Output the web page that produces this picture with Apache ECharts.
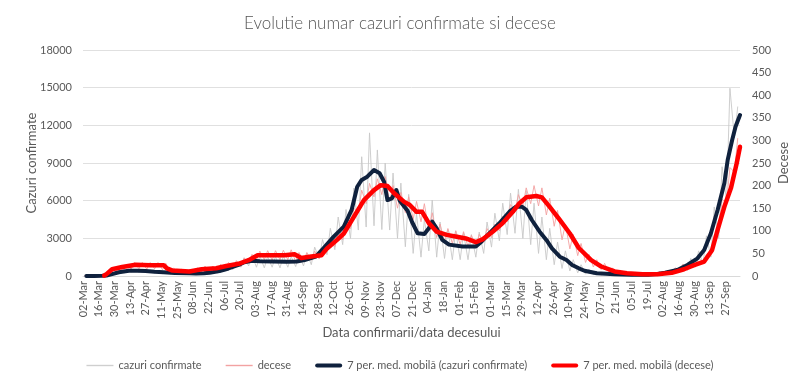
<!DOCTYPE html>
<html>
<head>
<meta charset="utf-8">
<script src="https://cdn.jsdelivr.net/npm/echarts@6/dist/echarts.min.js"></script>
<style>html,body{margin:0;padding:0;background:#fff}#c{width:800px;height:382px}</style>
</head>
<body>
<div id="c"></div>
<script>
// ---- DATA ----
const startDay = [2020, 2, 2];   // 02-Mar-2020, first category
const dayCount = 588;            // daily categories up to 10-Oct-2021
const monthNames = ['Jan','Feb','Mar','Apr','May','Jun','Jul','Aug','Sep','Oct','Nov','Dec'];

// raw daily series read as weekly troughs / peaks (week 0 starts 02-Mar-2020)
const casesLow  = [0,3,10,80,200,300,320,300,280,230,190,160,130,120,130,140,200,250,380,520,700,800,700,650,700,650,700,750,800,900,1400,1700,2100,2500,3000,3660,3900,4000,3700,3660,3000,2330,1800,1500,2000,1500,1400,1300,1300,1300,1500,1800,2300,2800,3300,3400,3000,2500,1800,1300,900,600,400,250,150,100,70,50,40,30,30,40,50,80,130,200,300,450,700,1000,1500,3000,6000,11000];
const casesHigh = [3,15,60,250,380,520,500,520,470,420,370,300,270,280,270,320,420,560,750,1100,1450,1650,1600,1550,1550,1600,1550,1700,1800,2300,2900,3800,4700,5300,7000,9500,11400,10040,9000,8200,7400,6500,5000,4500,6050,4300,3700,3600,3400,3300,3500,4300,5000,5800,6600,6900,6800,5800,4700,3800,2700,2000,1300,900,550,350,260,220,180,150,140,150,190,300,420,620,950,1400,2000,3200,5500,8700,14950,13500];
const deathsLow  = [0,0,0,1,8,12,15,16,15,16,14,8,6,6,8,10,10,12,15,18,20,28,35,36,35,36,36,32,33,35,38,55,65,80,105,140,160,175,180,165,150,140,125,120,100,85,75,72,70,65,65,75,85,100,120,145,155,160,155,135,110,80,60,45,30,20,14,8,5,3,2,2,2,3,4,8,14,18,22,30,55,95,160,230];
const deathsHigh = [0,0,1,8,20,25,30,30,30,30,28,18,15,14,18,22,22,26,30,34,40,48,55,56,56,57,58,52,52,55,60,78,95,115,150,190,205,215,220,200,185,175,165,160,140,115,105,100,98,90,92,105,115,132,158,180,195,200,195,172,145,115,92,72,48,36,28,18,12,9,8,7,7,9,12,18,26,32,40,48,90,170,240,305];

// 7-day moving averages: day index (from 02-Mar-2020) and value
const casesMaDays = [3,10,17,21,26,32,41,49,56,64,72,82,95,101,108,113,122,130,139,144,151,158,170,182,191,198,208,215,224,233,240,245,249,254,260,265,269,272,276,280,283,290,294,299,305,309,312,316,321,327,339,351,356,363,372,381,387,392,396,401,408,414,419,426,432,437,443,448,459,475,490,505,512,520,531,540,549,555,561,567,573,576,580,583,587];
const casesMaVals = [0,5,15,40,150,300,420,410,400,340,300,240,215,200,225,260,400,600,880,1100,1220,1170,1150,1140,1160,1270,1540,2230,3130,3930,5260,7110,7650,7910,8440,8180,7510,6050,6190,6850,6000,5200,4300,3400,3350,3800,4330,3800,2870,2500,2350,2350,2730,3400,4200,5120,5520,5520,5260,4460,3530,2870,2200,1540,1270,880,613,420,215,135,95,100,150,263,478,876,1410,2070,3400,5260,7380,9240,10830,11890,12820];
const deathsMaDays = [19,21,26,35,47,60,72,75,80,95,106,119,128,139,148,156,170,180,189,195,204,213,218,227,233,242,251,260,266,272,278,287,292,298,303,309,316,325,334,342,351,357,366,375,384,390,396,405,410,417,426,435,443,454,463,475,486,500,513,526,537,546,555,562,567,573,579,584,587];
const deathsMaVals = [1,4,15,20,25,24,24,17,12,10,15,17,22,27,35,46,46,46,48,40,43,46,61,80,94,131,168,190,201,199,183,164,157,142,142,117,98,91,87,83,75,81,98,117,142,161,174,177,174,153,124,94,62,35,21,10,6,4,4,7,15,24,32,57,102,153,195,249,286];

const yLeftTicks  = {min: 0, max: 18000, interval: 3000};
const yRightTicks = {min: 0, max: 500, interval: 50};

// ---- BUILD ----
const categories = [];
for (let i = 0; i < dayCount; i++) {
  const d = new Date(startDay[0], startDay[1], startDay[2] + i);
  categories.push(String(d.getDate()).padStart(2,'0') + '-' + monthNames[d.getMonth()]);
}
function weekly(lows, highs) {
  const out = [];
  for (let w = 0; w < lows.length; w++) {
    out.push([7*w + 1, lows[w]]);
    out.push([Math.min(7*w + 4, dayCount - 1), highs[w]]);
  }
  return out;
}
function pairs(days, vals) { return days.map((d, i) => [d, vals[i]]); }

const FONT = 'Lato';
const TXT = '#595959';
const thinIcon = 'path://M0,3.3 H27 V4.7 H0 Z';
const thickIcon = 'path://M2,2 H25 A2,2 0 0 1 25,6 H2 A2,2 0 0 1 2,2 Z';
const chart = echarts.init(document.getElementById('c'), null, {renderer: 'canvas'});
chart.setOption({
  animation: false,
  backgroundColor: '#fff',
  textStyle: {fontFamily: FONT, color: TXT},
  title: {
    text: 'Evolutie numar cazuri confirmate si decese',
    left: 'center', top: 10,
    textStyle: {fontFamily: FONT, fontSize: 17, fontWeight: 300, color: '#555555'}
  },
  grid: {left: 83, right: 60, top: 50, bottom: 106, containLabel: false},
  legend: {
    bottom: 6, left: 'center', itemWidth: 27, itemHeight: 8, itemGap: 24,
    textStyle: {fontFamily: FONT, fontSize: 11, color: TXT},
    data: [
      {name: 'cazuri confirmate', icon: thinIcon, itemStyle: {color: '#cfcfcf'}},
      {name: 'decese', icon: thinIcon, itemStyle: {color: '#f2a2a2'}},
      {name: '7 per. med. mobilă (cazuri confirmate)', icon: thickIcon, itemStyle: {color: '#0f213d'}},
      {name: '7 per. med. mobilă (decese)', icon: thickIcon, itemStyle: {color: '#ff0000'}}
    ]
  },
  xAxis: {
    type: 'category', data: categories, boundaryGap: false,
    axisLine: {lineStyle: {color: '#d9d9d9'}},
    axisTick: {show: false},
    axisLabel: {interval: 13, rotate: 90, fontSize: 11, color: TXT, margin: 5, fontFamily: FONT},
    name: 'Data confirmarii/data decesului', nameLocation: 'middle', nameGap: 50, nameMoveOverlap: false,
    nameTextStyle: {fontSize: 13, color: TXT, fontFamily: FONT}
  },
  yAxis: [
    {
      type: 'value', min: yLeftTicks.min, max: yLeftTicks.max, interval: yLeftTicks.interval,
      axisLine: {show: false}, axisTick: {show: false},
      axisLabel: {fontSize: 11, color: TXT, margin: 11, fontFamily: FONT, formatter: v => String(v)},
      splitLine: {lineStyle: {color: '#e0e0e0', width: 1}},
      name: 'Cazuri confirmate', nameLocation: 'middle', nameGap: 45, nameRotate: 90, nameMoveOverlap: false,
      nameTextStyle: {fontSize: 13, color: TXT, fontFamily: FONT}
    },
    {
      type: 'value', position: 'right', min: yRightTicks.min, max: yRightTicks.max, interval: yRightTicks.interval,
      axisLine: {show: false}, axisTick: {show: false},
      axisLabel: {fontSize: 11, color: TXT, margin: 12, fontFamily: FONT, formatter: v => String(v)},
      splitLine: {show: false},
      name: 'Decese', nameLocation: 'middle', nameGap: 37, nameRotate: 90, nameMoveOverlap: false,
      nameTextStyle: {fontSize: 13, color: TXT, fontFamily: FONT}
    }
  ],
  series: [
    {name: 'cazuri confirmate', type: 'line', yAxisIndex: 0, symbol: 'none', z: 1,
     lineStyle: {color: '#c8c8c8', width: 0.9}, itemStyle: {color: '#c8c8c8'},
     data: weekly(casesLow, casesHigh)},
    {name: 'decese', type: 'line', yAxisIndex: 1, symbol: 'none', z: 2,
     lineStyle: {color: '#f3a0a0', width: 0.9}, itemStyle: {color: '#f3a0a0'},
     data: weekly(deathsLow, deathsHigh)},
    {name: '7 per. med. mobilă (cazuri confirmate)', type: 'line', yAxisIndex: 0, symbol: 'none', z: 3,
     lineStyle: {color: '#0f213d', width: 4, cap: 'round', join: 'round'}, itemStyle: {color: '#0f213d'},
     data: pairs(casesMaDays, casesMaVals)},
    {name: '7 per. med. mobilă (decese)', type: 'line', yAxisIndex: 1, symbol: 'none', z: 4,
     lineStyle: {color: '#ff0000', width: 4.5, cap: 'round', join: 'round'}, itemStyle: {color: '#ff0000'},
     data: pairs(deathsMaDays, deathsMaVals)}
  ]
});
</script>
</body>
</html>
